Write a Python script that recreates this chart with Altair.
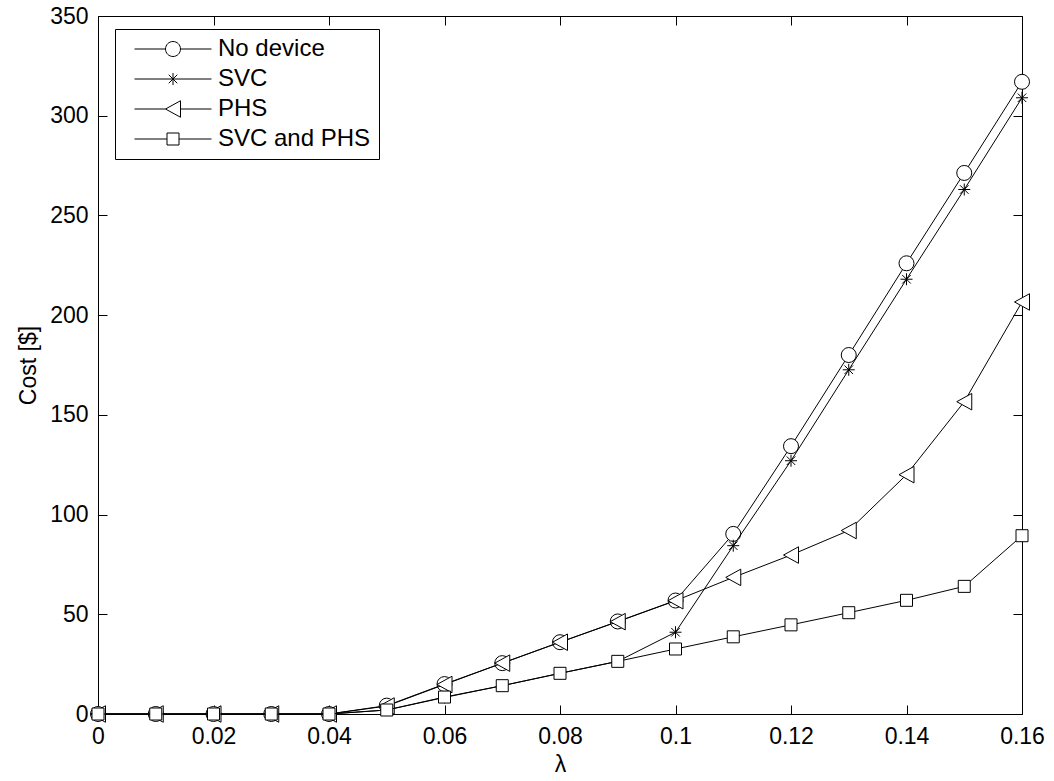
import altair as alt
import pandas as pd

# ---------------- data ----------------
lam = [0.00, 0.01, 0.02, 0.03, 0.04, 0.05, 0.06, 0.07, 0.08,
       0.09, 0.10, 0.11, 0.12, 0.13, 0.14, 0.15, 0.16]
no_device = [0, 0, 0, 0, 0, 4.2, 15.0, 25.5, 36.0, 46.4, 56.9, 90.3, 134.3, 180.0, 226.0, 271.3, 317.0]
svc = [0, 0, 0, 0, 0, 2.0, 8.3, 14.2, 20.4, 26.4, 41.0, 84.4, 127.0, 172.6, 218.0, 263.0, 309.0]
phs = [0, 0, 0, 0, 0, 4.0, 14.8, 25.5, 36.0, 46.3, 56.8, 68.5, 79.7, 92.0, 120.0, 156.6, 206.6]
svc_phs = [0, 0, 0, 0, 0, 2.0, 8.5, 14.2, 20.4, 26.4, 32.6, 38.7, 44.7, 50.8, 57.0, 64.0, 89.4]

series_names = ["No device", "SVC", "PHS", "SVC and PHS"]
series_values = [no_device, svc, phs, svc_phs]

x_ticks = [0, 0.02, 0.04, 0.06, 0.08, 0.10, 0.12, 0.14, 0.16]
y_ticks = [0, 50, 100, 150, 200, 250, 300, 350]

rows = []
for name, vals in zip(series_names, series_values):
    for x, v in zip(lam, vals):
        rows.append({"lam": x, "cost": v, "series": name})
df = pd.DataFrame(rows)

# ---------------- styles ----------------
FONT = "Liberation Sans"
FS = 23
LFS = 24
TICK = 9
MSIZE = 225

marker_shapes = [
    "circle",
    "M-0.8,0L0.8,0M0,-0.8L0,0.8M-0.57,-0.57L0.57,0.57M-0.57,0.57L0.57,-0.57",
    "M-1,0L1,-1.1L1,1.1Z",
    "M-0.8,-0.8L0.8,-0.8L0.8,0.8L-0.8,0.8Z",
]
L = 5.13
legend_shapes = [
    f"M-{L},0L-1,0M1,0L{L},0M-1,0A1,1,0,1,0,1,0A1,1,0,1,0,-1,0Z",
    f"M-{L},0L{L},0M0,-0.8L0,0.8M-0.57,-0.57L0.57,0.57M-0.57,0.57L0.57,-0.57",
    f"M-{L},0L-1,0M1,0L{L},0M-1,0L1,-1.1L1,1.1Z",
    f"M-{L},0L-0.8,0M0.8,0L{L},0M-0.8,-0.8L0.8,-0.8L0.8,0.8L-0.8,0.8Z",
]

xscale = alt.Scale(domain=[0, 0.16], nice=False, zero=False)
yscale = alt.Scale(domain=[0, 350], nice=False, zero=False)

common_axis = dict(grid=False, domain=False, tickSize=TICK, offset=-TICK,
                   tickColor="black", tickWidth=1, labelOverlap=False,
                   labelFlush=False)

x_axis_main = alt.Axis(orient="bottom", values=x_ticks, format=".2~f",
                       labelPadding=11, labelFont=FONT, labelFontSize=FS,
                       labelColor="black", title="λ", titleFont=FONT,
                       titleFontSize=FS, titleFontWeight="normal",
                       titleColor="black", titlePadding=5, **common_axis)
y_axis_main = alt.Axis(orient="left", values=y_ticks, format="d",
                       labelPadding=10, labelFont=FONT, labelFontSize=FS,
                       labelColor="black", title="Cost [$]", titleFont=FONT,
                       titleFontSize=FS, titleFontWeight="normal",
                       titleColor="black", titlePadding=9, **common_axis)
x_axis_top = alt.Axis(orient="top", values=x_ticks, labels=False, title=None,
                      **common_axis)
y_axis_right = alt.Axis(orient="right", values=y_ticks, labels=False, title=None,
                        **common_axis)

base = alt.Chart(df)

layers = []
for i, (name, shp) in enumerate(zip(series_names, marker_shapes)):
    layer = base.transform_filter(alt.datum.series == name).mark_line(
        color="black", strokeWidth=1,
        point=alt.OverlayMarkDef(shape=shp, size=MSIZE, filled=True,
                                 fill="white", stroke="black",
                                 strokeWidth=1, opacity=1),
    ).encode(
        x=alt.X("lam:Q", scale=xscale, axis=x_axis_main if i == 0 else None),
        y=alt.Y("cost:Q", scale=yscale, axis=y_axis_main if i == 0 else None),
    )
    layers.append(layer)

legend_layer = base.transform_filter("false").mark_point(
    filled=False, color="black", strokeWidth=1, size=MSIZE, opacity=1
).encode(
    x=alt.X("lam:Q", scale=xscale, axis=x_axis_top),
    y=alt.Y("cost:Q", scale=yscale, axis=y_axis_right),
    shape=alt.Shape(
        "series:N",
        scale=alt.Scale(domain=series_names, range=legend_shapes),
        legend=alt.Legend(
            orient="none", legendX=17, legendY=13, title=None,
            padding=8, strokeColor="black", fillColor="white",
            labelFont=FONT, labelFontSize=LFS, labelColor="black",
            symbolSize=MSIZE, symbolStrokeWidth=1, symbolStrokeColor="black",
            symbolOpacity=1,
            symbolOffset=38, labelOffset=33, rowPadding=6,
        ),
    ),
)

chart = alt.layer(*layers, legend_layer).properties(
    width=924, height=698,
    padding={"left": 98, "top": 16, "right": 32, "bottom": 67},
    autosize=alt.AutoSizeParams(type="none"),
    background="white",
).configure_view(stroke="black", strokeWidth=1)

chart.save("out.html", embed_options={"renderer": "svg", "actions": False})
